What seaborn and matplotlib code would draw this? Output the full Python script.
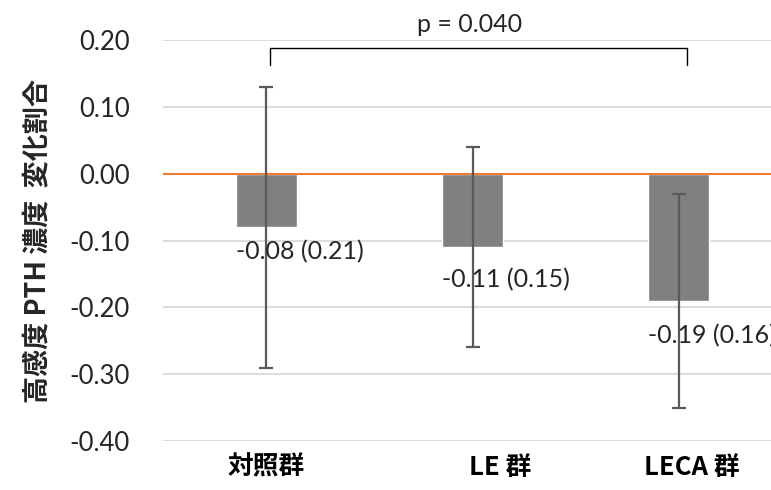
import seaborn as sns
import matplotlib.pyplot as plt
import matplotlib.transforms as mtransforms
import pandas as pd

# データ
groups = ["対照群", "LE 群", "LECA 群"]
means = [-0.08, -0.11, -0.19]
sds = [0.21, 0.15, 0.16]
p_text = "p = 0.040"
y_ticks = [0.20, 0.10, 0.00, -0.10, -0.20, -0.30, -0.40]

sns.set_theme(style="white")
plt.rcParams["font.family"] = ["Lato", "Noto Sans CJK JP", "DejaVu Sans"]

df = pd.DataFrame({"group": groups, "mean": means, "sd": sds})

fig = plt.figure(figsize=(7.71, 4.90), dpi=100)
ax = fig.add_axes([0.2114, 0.1, 0.803, 0.818])

# グリッド線
for t in y_ticks:
    ax.axhline(t, color="#d9d9d9", lw=1.3, zorder=0)

bar_w = 0.295
sns.barplot(data=df, x="group", y="mean", color="#808080", width=bar_w,
            saturation=1, errorbar=None, ax=ax, zorder=2)

# ゼロ線（オレンジ）
ax.axhline(0, color="#ED7D31", lw=1.5, zorder=3)

# 誤差棒（SD）
ax.errorbar(range(len(groups)), df["mean"], yerr=df["sd"], fmt="none",
            ecolor="#5a5a5a", elinewidth=1.6, capsize=5, capthick=1.6, zorder=4)

# 値ラベル（棒の左端から）
for i, (m, s, dy) in enumerate(zip(means, sds, (0.037, 0.048, 0.052))):
    ax.text(i - bar_w / 2, m - dy, f"{m:.2f} ({s:.2f})", fontsize=18,
            va="center", ha="left", color="#262626", clip_on=False, zorder=5)

# 有意差ブラケット
bx0, bx1 = 0.017, 2.04
ax.plot([bx0, bx0, bx1, bx1], [0.163, 0.189, 0.189, 0.163], color="black",
        lw=1.0, clip_on=False, zorder=5)
ax.text(0.985, 0.223, p_text, ha="center", va="center",
        fontsize=18, color="#262626", clip_on=False)

ax.set_ylim(-0.40, 0.20)
ax.set_xlim(-0.5, 2.5)
ax.set_yticks(y_ticks)
ax.set_yticklabels([f"{t:.2f}" for t in y_ticks], fontsize=18.5, color="#262626")
ax.tick_params(axis="y", pad=24, length=0)
ax.tick_params(axis="x", length=0, pad=9)
for lbl, dx in zip(ax.get_xticklabels(), (0, 28, 13)):
    lbl.set_fontsize(18.5)
    lbl.set_fontweight("bold")
    lbl.set_family(["Noto Sans CJK JP"])
    lbl.set_color("black")
    lbl.set_transform(lbl.get_transform() +
                      mtransforms.ScaledTranslation(dx / 100, 0, fig.dpi_scale_trans))

ax.set_xlabel("")
ax.set_ylabel("高感度 PTH 濃度  変化割合", fontsize=19.5, fontweight="bold",
              family=["Noto Sans CJK JP"])
ax.yaxis.set_label_coords(-0.18, 0.5)
sns.despine(left=True, bottom=True)

fig.savefig("out.png", dpi=100)
